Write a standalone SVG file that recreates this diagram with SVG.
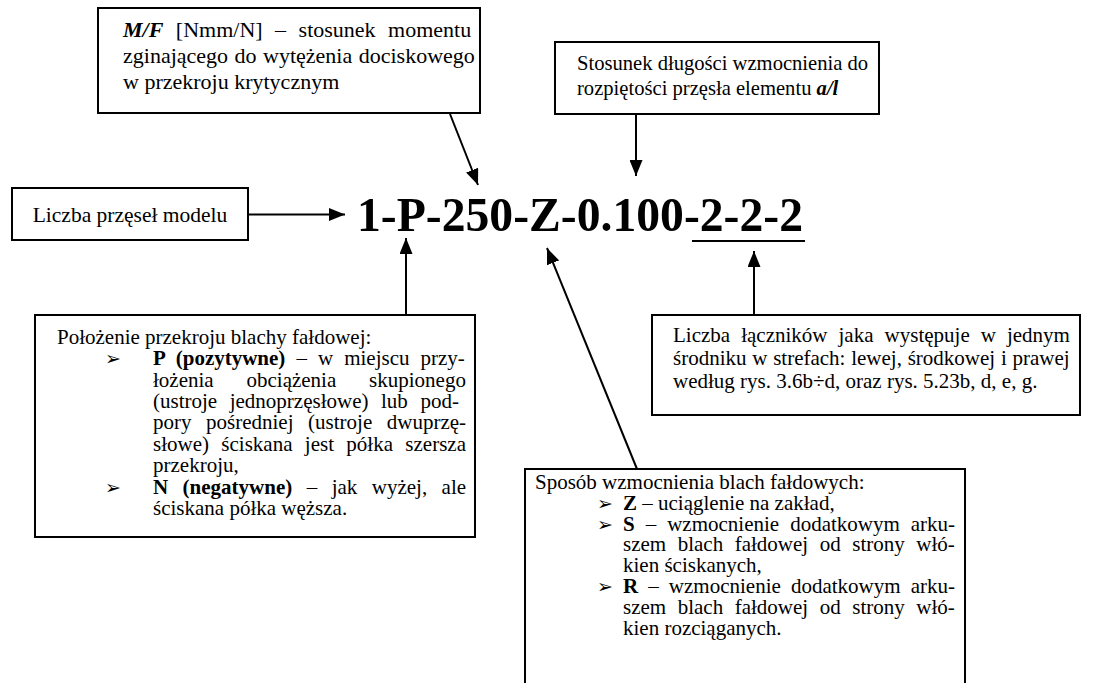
<svg xmlns="http://www.w3.org/2000/svg" width="1094" height="683" viewBox="0 0 1094 683">
<defs>
<marker id="ah" markerUnits="userSpaceOnUse" markerWidth="16" markerHeight="13" viewBox="0 0 16 13" refX="16" refY="6.5" orient="auto">
<path d="M0,0 L16,6.5 L0,13 z" fill="#000"/>
</marker>
</defs>
<style>
.box{fill:#fff;stroke:#000;stroke-width:2}
.t{font-family:"Liberation Serif","Times New Roman",serif;fill:#000}
.b{font-weight:bold}
.bi{font-weight:bold;font-style:italic}
.bul{font-family:"DejaVu Sans",sans-serif;font-size:19px;fill:#000}
.con{stroke:#000;stroke-width:2;fill:none;marker-end:url(#ah)}
</style>
<rect width="1094" height="683" fill="#fff"/>

<g id="connectors">
<line class="con" x1="450" y1="114" x2="478" y2="185"/>
<line class="con" x1="636" y1="114" x2="636" y2="176"/>
<line class="con" x1="248" y1="214.5" x2="345" y2="214.5"/>
<line class="con" x1="406" y1="315" x2="406" y2="238"/>
<line class="con" x1="637" y1="469" x2="547" y2="248"/>
<line class="con" x1="754" y1="315" x2="754" y2="251"/>
<line x1="692" y1="241" x2="805" y2="241" stroke="#000" stroke-width="2"/>
</g>

<g id="title">
<text class="t b" x="357" y="231" font-size="49" textLength="446" lengthAdjust="spacingAndGlyphs">1-P-250-Z-0.100-2-2-2</text>
</g>

<g id="node-mf">
<rect class="box" x="98" y="8" width="382" height="105"/>
<text class="t" font-size="22" x="123" y="37" word-spacing="7"><tspan class="bi">M/F</tspan> [Nmm/N] – stosunek momentu</text>
<text class="t" font-size="22" x="123" y="63" word-spacing="1">zginającego do wytężenia dociskowego</text>
<text class="t" font-size="22" x="123" y="89">w przekroju krytycznym</text>
</g>

<g id="node-al">
<rect class="box" x="555" y="42" width="324" height="72"/>
<text class="t" font-size="20.6" x="577" y="70">Stosunek długości wzmocnienia do</text>
<text class="t" font-size="20.6" x="577" y="95">rozpiętości przęsła elementu <tspan class="bi">a/l</tspan></text>
</g>

<g id="node-liczba">
<rect class="box" x="12" y="188" width="236" height="52"/>
<text class="t" font-size="21.5" x="130" y="222" text-anchor="middle">Liczba przęseł modelu</text>
</g>

<g id="node-polozenie">
<rect class="box" x="35" y="315" width="440" height="222"/>
<text class="t" font-size="21" x="57" y="344">Położenie przekroju blachy fałdowej:</text>
<text class="bul" x="105" y="365">➢</text>
<text class="t" font-size="21" x="153" y="365" word-spacing="5.8"><tspan class="b">P (pozytywne)</tspan> – w miejscu przy-</text>
<text class="t" font-size="21" x="153" y="387" word-spacing="27.6">łożenia obciążenia skupionego</text>
<text class="t" font-size="21" x="153" y="408" word-spacing="7.3">(ustroje jednoprzęsłowe) lub pod-</text>
<text class="t" font-size="21" x="153" y="429" word-spacing="9.3">pory pośredniej (ustroje dwuprzę-</text>
<text class="t" font-size="21" x="153" y="451" word-spacing="7.1">słowe) ściskana jest półka szersza</text>
<text class="t" font-size="21" x="153" y="472">przekroju,</text>
<text class="bul" x="105" y="494">➢</text>
<text class="t" font-size="21" x="153" y="494" word-spacing="9.2"><tspan class="b">N (negatywne)</tspan> – jak wyżej, ale</text>
<text class="t" font-size="21" x="153" y="515">ściskana półka węższa.</text>
</g>

<g id="node-laczniki">
<rect class="box" x="652" y="315" width="428" height="100"/>
<text class="t" font-size="21" x="673" y="342" word-spacing="5.8">Liczba łączników jaka występuje w jednym</text>
<text class="t" font-size="21" x="673" y="365" word-spacing="0.5">środniku w strefach: lewej, środkowej i prawej</text>
<text class="t" font-size="21" x="673" y="388">według rys. 3.6b÷d, oraz rys. 5.23b, d, e, g.</text>
</g>

<g id="node-sposob">
<rect class="box" x="525" y="469" width="440" height="230"/>
<text class="t" font-size="21" x="535" y="489">Sposób wzmocnienia blach fałdowych:</text>
<text class="bul" x="597" y="510">➢</text>
<text class="t" font-size="21" x="623" y="510"><tspan class="b">Z</tspan> – uciąglenie na zakład,</text>
<text class="bul" x="597" y="531">➢</text>
<text class="t" font-size="21" x="623" y="531" word-spacing="5.75"><tspan class="b">S</tspan> – wzmocnienie dodatkowym arku-</text>
<text class="t" font-size="21" x="623" y="551" word-spacing="6.3">szem blach fałdowej od strony włó-</text>
<text class="t" font-size="21" x="623" y="572">kien ściskanych,</text>
<text class="bul" x="597" y="593">➢</text>
<text class="t" font-size="21" x="623" y="593" word-spacing="4.85"><tspan class="b">R</tspan> – wzmocnienie dodatkowym arku-</text>
<text class="t" font-size="21" x="623" y="614" word-spacing="6.3">szem blach fałdowej od strony włó-</text>
<text class="t" font-size="21" x="623" y="635">kien rozciąganych.</text>
</g>
</svg>
